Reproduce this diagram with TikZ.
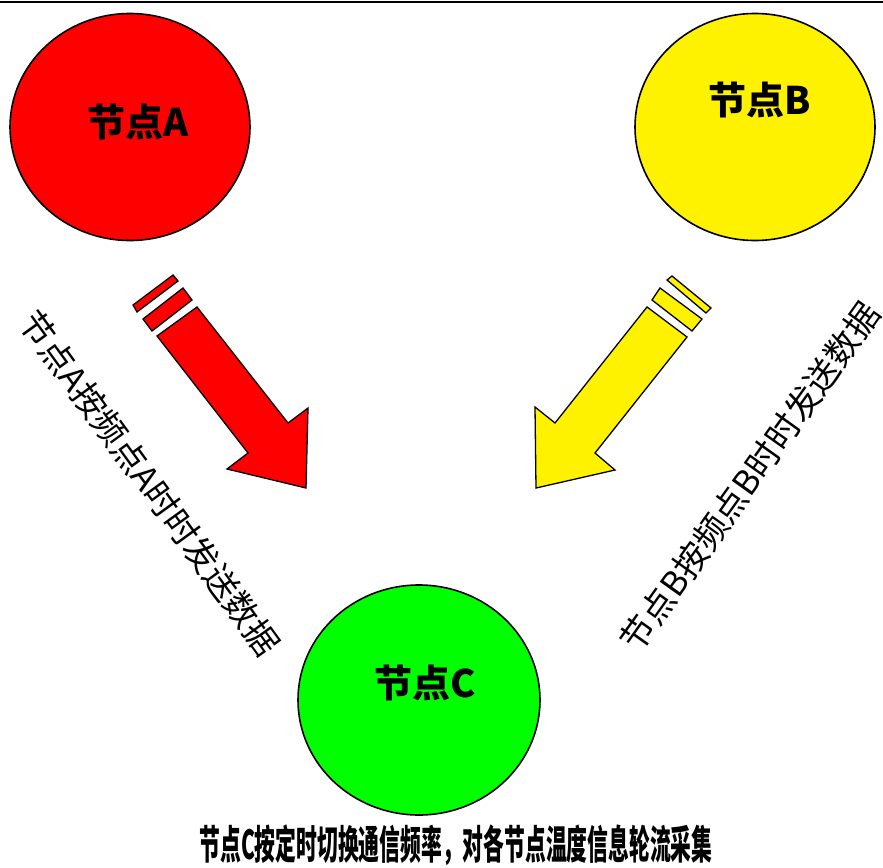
\documentclass[tikz,border=0pt]{standalone}
\usepackage{fontspec}
\newfontfamily\cjk{Noto Sans CJK SC}
\usetikzlibrary{shapes.geometric}
\tikzset{
  bubble/.style={ellipse, draw=black, line width=1.6pt, minimum width=240pt, minimum height=227pt, inner sep=0pt},
  biglabel/.style={font=\cjk\bfseries\fontsize{38}{38}\selectfont, inner sep=0pt},
  sidelabel/.style={font=\cjk\fontsize{34}{34}\selectfont, inner sep=0pt},
  arrowshape/.style={draw=black, line width=1.3pt, line join=miter}
}
\begin{document}
\begin{tikzpicture}[x=1pt,y=-1pt]
\useasboundingbox (0,0) rectangle (883,867);
\draw[line width=2.2pt] (0,2) -- (883,2);
% circles
\node[bubble, fill=red] (A) at (130,127) {};
\node[bubble, fill=yellow] (B) at (755,127) {};
\node[bubble, fill=green, minimum width=242pt, minimum height=230pt] (C) at (419,700) {};
\node[biglabel] (la) at (138,122) {节点A};
\node[biglabel] (lb) at (760,100) {节点B};
\node[biglabel] (lc) at (425,683) {节点C};
% red arrow
\draw[arrowshape, fill=red] (133,305) -- (173,275) -- (178,281) -- (137,312) -- cycle;
\draw[arrowshape, fill=red] (143,319) -- (183,288) -- (192,300) -- (152,331) -- cycle;
\draw[arrowshape, fill=red] (157,336) -- (197,307) -- (288,423) -- (308,408) -- (306,488) -- (227,469) -- (248,453) -- cycle;
% yellow arrow
\draw[arrowshape, fill=yellow] (667,280) -- (672,276) -- (711,308) -- (706,313) -- cycle;
\draw[arrowshape, fill=yellow] (652,300) -- (660,288) -- (702,319) -- (692,331) -- cycle;
\draw[arrowshape, fill=yellow] (647,307) -- (687,337) -- (595,453) -- (615,470) -- (536,488) -- (535,407) -- (555,423) -- cycle;
% side texts
\node[sidelabel, rotate=-54] (ta) at (150,483) {节点A按频点A时时发送数据};
\node[sidelabel, rotate=54.5] (tb) at (750,477) {节点B按频点B时时发送数据};
% bottom text
\node[inner sep=0pt] (bottom) at (456,845) {\scalebox{0.52}[1]{\cjk\bfseries\fontsize{40}{40}\selectfont 节点C按定时切换通信频率，对各节点温度信息轮流采集}};
\end{tikzpicture}
\end{document}
